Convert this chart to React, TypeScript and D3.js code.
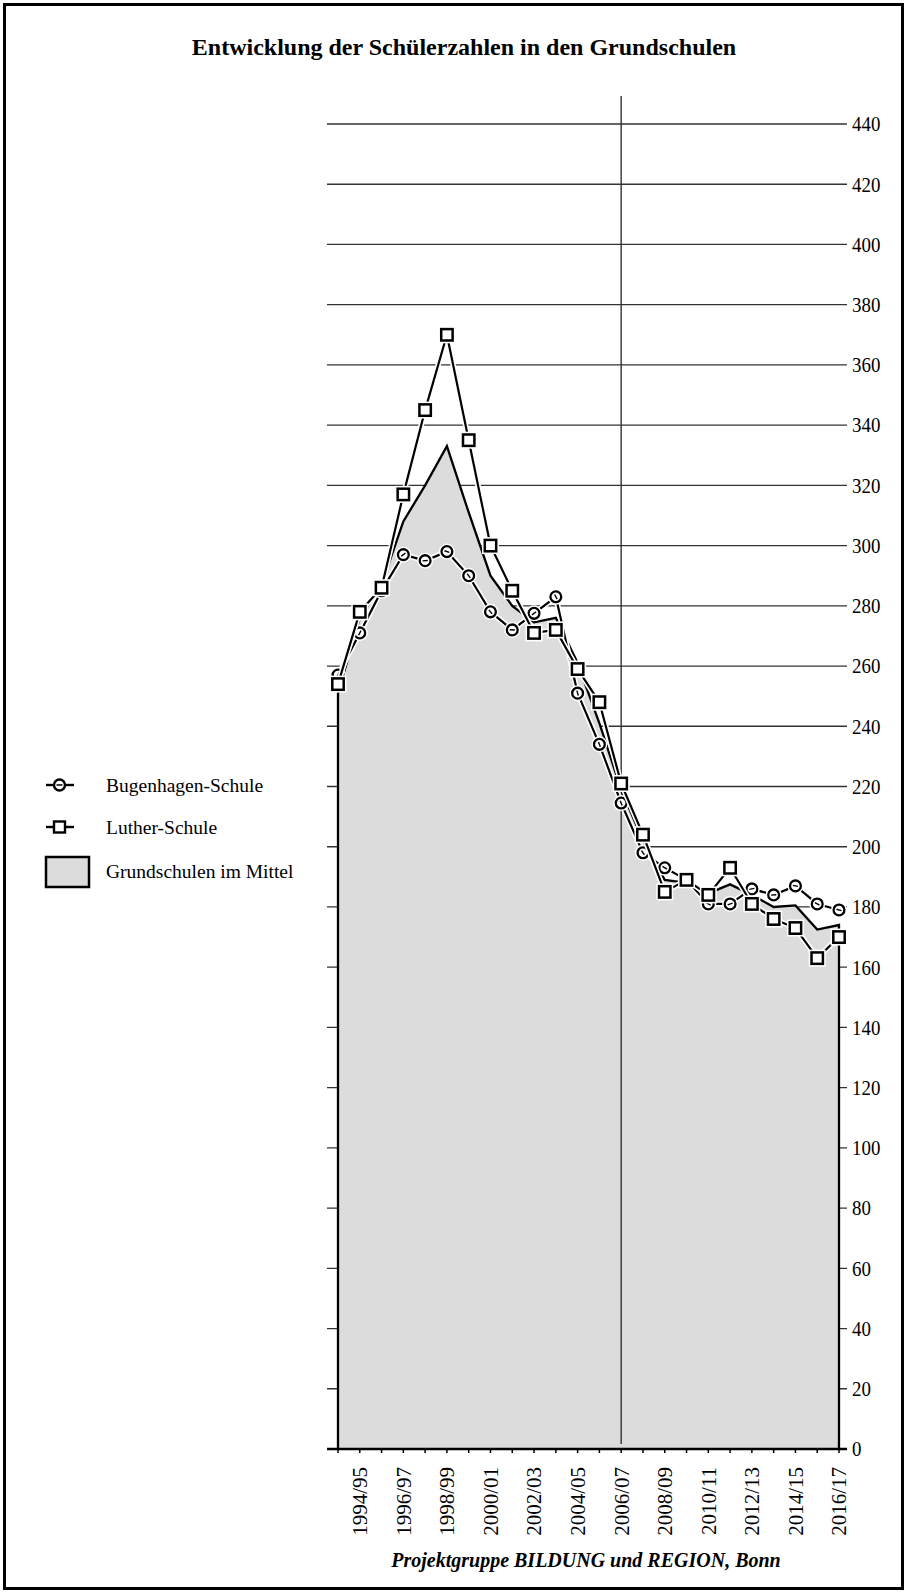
import React from 'react';
import * as d3 from 'd3';

const categories: string[] = [
  '1993/94', '1994/95', '1995/96', '1996/97', '1997/98', '1998/99', '1999/00', '2000/01',
  '2001/02', '2002/03', '2003/04', '2004/05', '2005/06', '2006/07', '2007/08', '2008/09',
  '2009/10', '2010/11', '2011/12', '2012/13', '2013/14', '2014/15', '2015/16', '2016/17',
];
const bugenhagen: number[] = [257, 271, 285, 297, 295, 298, 290, 278, 272, 277.5, 283, 251, 234, 214.5, 198, 193, 189, 181, 181, 186, 184, 187, 181, 179];
const luther: number[] = [254, 278, 286, 317, 345, 370, 335, 300, 285, 271, 272, 259, 248, 221, 204, 185, 189, 184, 193, 181, 176, 173, 163, 170];
const mittel: number[] = [251, 276, 287, 308, 320, 333, 311, 290, 280, 274.5, 276, 261, 241, 219, 202, 189, 188, 184.5, 187.5, 184, 180, 180.5, 172.5, 174];
const yTickValues: number[] = [0, 20, 40, 60, 80, 100, 120, 140, 160, 180, 200, 220, 240, 260, 280, 300, 320, 340, 360, 380, 400, 420, 440];
const xTickLabels: string[] = ['1994/95', '1996/97', '1998/99', '2000/01', '2002/03', '2004/05', '2006/07', '2008/09', '2010/11', '2012/13', '2014/15', '2016/17'];
const markerCategory = '2006/07';
const seriesNames = ['Bugenhagen-Schule', 'Luther-Schule', 'Grundschulen im Mittel'];
const titleText = 'Entwicklung der Schülerzahlen in den Grundschulen';
const footerText = 'Projektgruppe BILDUNG und REGION, Bonn';

const W = 907;
const H = 1592;
const FONT = "'Liberation Serif', 'Times New Roman', serif";
const AREA_FILL = '#dcdcdc';

export default function App() {
  const x = d3.scalePoint<string>().domain(categories).range([338, 839]);
  const y = d3.scaleLinear().domain([0, 440]).range([1449, 124]);
  const gridLeft = 327;
  const gridRight = 847;

  const px = (i: number) => x(categories[i]) as number;
  const line = d3.line<number>().x((_, i) => px(i)).y((d) => y(d));
  const area = d3.area<number>().x((_, i) => px(i)).y0(y(0)).y1((d) => y(d));

  const outlinePts: [number, number][] = [
    [px(0), y(0)],
    ...mittel.map((d, i) => [px(i), y(d)] as [number, number]),
    [px(categories.length - 1), y(0)],
  ];
  const outline = d3.line()(outlinePts) as string;

  const dirAt = (vals: number[], i: number) => {
    const a = Math.max(0, i - 1);
    const b = Math.min(vals.length - 1, i + 1);
    const dx = px(b) - px(a);
    const dy = y(vals[b]) - y(vals[a]);
    const len = Math.hypot(dx, dy) || 1;
    return [dx / len, dy / len];
  };

  const vx = x(markerCategory) as number;
  const labelX = 852;

  return (
    <svg width={W} height={H} viewBox={`0 0 ${W} ${H}`}
      style={{ position: 'absolute', left: 0, top: 0, display: 'block', background: '#fff' }}
      fontFamily={FONT}>
      <rect x={0} y={0} width={W} height={H} fill="#fff" />
      <rect x={4.5} y={4.5} width={W - 9} height={H - 8} fill="none" stroke="#000" strokeWidth={3} />

      <text x={464} y={55} textAnchor="middle" fontSize={24} fontWeight="bold">{titleText}</text>

      {/* grid */}
      {yTickValues.map((v) => (
        <line key={'g' + v} x1={gridLeft} x2={gridRight} y1={y(v)} y2={y(v)} stroke="#333" strokeWidth={1.3} />
      ))}
      {yTickValues.map((v) => (
        <text key={'t' + v} transform={`translate(${labelX},${y(v)}) scale(0.9,1)`} dy="0.35em" fontSize={21}>{v}</text>
      ))}

      {/* area */}
      <path d={area(mittel) as string} fill={AREA_FILL} stroke="none" />
      <line x1={vx} x2={vx} y1={96} y2={1444} stroke="#333" strokeWidth={1.4} />
      <path d={outline} fill="none" stroke="#000" strokeWidth={2.3} strokeLinejoin="miter" />

      {/* x axis */}
      <line x1={gridLeft} x2={gridRight} y1={y(0)} y2={y(0)} stroke="#000" strokeWidth={2.6} />
      {categories.map((c) => (
        <line key={'xt' + c} x1={x(c)} x2={x(c)} y1={y(0)} y2={y(0) + 4} stroke="#000" strokeWidth={1.5} />
      ))}
      {xTickLabels.map((c) => (
        <text key={'xl' + c} transform={`translate(${(x(c) as number)},${1467}) rotate(-90)`}
          textAnchor="end" dy="0.35em" fontSize={21}>{c}</text>
      ))}

      {/* Bugenhagen */}
      <path d={line(bugenhagen) as string} fill="none" stroke="#fff" strokeWidth={5.5} strokeLinejoin="round" />
      <path d={line(bugenhagen) as string} fill="none" stroke="#000" strokeWidth={2.2} strokeLinejoin="round" />
      {bugenhagen.map((v, i) => {
        const [ux, uy] = dirAt(bugenhagen, i);
        const cx = px(i), cy = y(v);
        return (
          <g key={'b' + i}>
            <circle cx={cx} cy={cy} r={8} fill="#fff" />
            <circle cx={cx} cy={cy} r={5.4} fill="#fff" stroke="#000" strokeWidth={2.3} />
            <line x1={cx - ux * 2.6} y1={cy - uy * 2.6} x2={cx + ux * 2.6} y2={cy + uy * 2.6} stroke="#000" strokeWidth={1.4} />
          </g>
        );
      })}

      {/* Luther */}
      <path d={line(luther) as string} fill="none" stroke="#fff" strokeWidth={5.5} strokeLinejoin="round" />
      <path d={line(luther) as string} fill="none" stroke="#000" strokeWidth={2.2} strokeLinejoin="round" />
      {luther.map((v, i) => {
        const cx = px(i), cy = y(v);
        return (
          <g key={'l' + i}>
            <rect x={cx - 8.5} y={cy - 8.5} width={17} height={17} fill="#fff" />
            <rect x={cx - 5.7} y={cy - 5.7} width={11.4} height={11.4} fill="#fff" stroke="#000" strokeWidth={2.5} />
          </g>
        );
      })}

      {/* legend */}
      <g>
        <line x1={46} x2={53} y1={785} y2={785} stroke="#000" strokeWidth={2.4} />
        <line x1={66} x2={74} y1={785} y2={785} stroke="#000" strokeWidth={2.4} />
        <circle cx={59.5} cy={785} r={5.5} fill="#fff" stroke="#000" strokeWidth={2.4} />
        <line x1={56.5} x2={62.5} y1={785} y2={785} stroke="#000" strokeWidth={1.5} />
        <text x={106} y={785} dy="0.35em" fontSize={19.5}>{seriesNames[0]}</text>

        <line x1={46} x2={53} y1={827} y2={827} stroke="#000" strokeWidth={2.4} />
        <line x1={66} x2={74} y1={827} y2={827} stroke="#000" strokeWidth={2.4} />
        <rect x={54} y={821.5} width={11} height={11} fill="#fff" stroke="#000" strokeWidth={2.4} />
        <text x={106} y={827} dy="0.35em" fontSize={19.5}>{seriesNames[1]}</text>

        <rect x={46} y={857} width={43} height={30} fill={AREA_FILL} stroke="#000" strokeWidth={2.5} />
        <text x={106} y={871} dy="0.35em" fontSize={19.5}>{seriesNames[2]}</text>
      </g>

      <text x={586} y={1567} textAnchor="middle" fontSize={20} fontWeight="bold" fontStyle="italic">{footerText}</text>
    </svg>
  );
}
